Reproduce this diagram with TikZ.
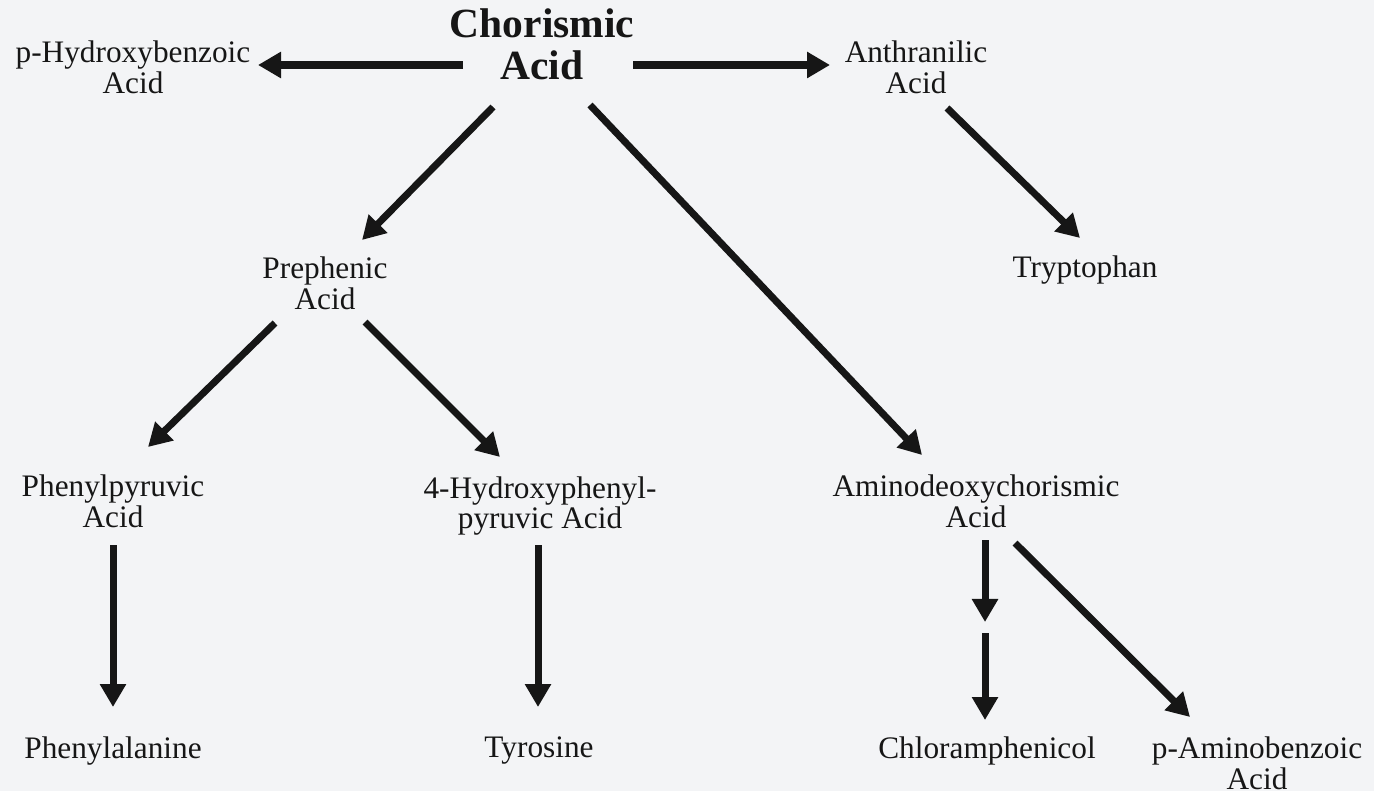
\documentclass[tikz,border=0pt]{standalone}
\usepackage{fontspec}
\setmainfont{Liberation Serif}
\usetikzlibrary{arrows.meta,calc}
\definecolor{paper}{RGB}{243,244,246}
\definecolor{ink}{RGB}{22,22,22}

\begin{document}
\begin{tikzpicture}[x=0.01cm, y=-0.01cm,
		lbl/.style={inner sep=0pt, align=center, text=ink, font=\fontsize{8.9}{8.8}\selectfont},
		arr/.style={draw=ink, line width=0.07cm, -{Triangle[width=0.25cm, length=0.23cm]}}]
		\fill[paper] (0,0) rectangle (1374,791);
		\useasboundingbox (0,0) rectangle (1374,791);
		% top row
		\node[lbl, font=\bfseries\fontsize{11.8}{12}\selectfont] (chor) at (542,44.5) {Chorismic\\Acid};
		\node[lbl] (phb) at (133,67) {p-Hydroxybenzoic\\Acid};
		\node[lbl] (anth) at (916,67.5) {Anthranilic\\Acid};
		% second row
		\node[lbl] (preph) at (325,283) {Prephenic\\Acid};
		\node[lbl] (tryp) at (1085,270) {Tryptophan};
		% third row
		\node[lbl] (phpyr) at (113,501) {Phenylpyruvic\\Acid};
		\node[lbl] (hpp) at (540,506) {4-Hydroxyphenyl-\\pyruvic Acid};
		\node[lbl] (amino) at (976,501) {Aminodeoxychorismic\\Acid};
		% bottom row
		\node[lbl] (phe) at (113,751) {Phenylalanine};
		\node[lbl] (tyr) at (539,751) {Tyrosine};
		\node[lbl] (chl) at (987,751) {Chloramphenicol};
		\node[lbl] (paba) at (1257,763) {p-Aminobenzoic\\Acid};
		\coordinate (chlstep) at (985,627);
		% arrows
		\draw[arr] ($(chor)+(-79,20.5)$) -- ($(phb)+(125,-2)$);
		\draw[arr] ($(chor)+(91,20.5)$) -- ($(anth)+(-86,-2.5)$);
		\draw[arr] ($(chor)+(-49,62.5)$) -- ($(preph)+(37,-43)$);
		\draw[arr] ($(chor)+(48,60.5)$) -- ($(amino)+(-54,-46)$);
		\draw[arr] ($(anth)+(31,40.5)$) -- ($(tryp)+(-5,-32)$);
		\draw[arr] ($(preph)+(-50,40)$) -- ($(phpyr)+(35,-54)$);
		\draw[arr] ($(preph)+(40,39)$) -- ($(hpp)+(-40,-49)$);
		\draw[arr] ($(phpyr)+(0,44)$) -- ($(phe)+(0,-44)$);
		\draw[arr] ($(hpp)+(-2,39)$) -- ($(tyr)+(-1,-44)$);
		\draw[arr, shorten >=0.05cm] ($(amino)+(9,39)$) -- (chlstep);
		\draw[arr, shorten <=0.06cm] (chlstep) -- ($(chl)+(-2,-31)$);
		\draw[arr] ($(amino)+(39,42)$) -- ($(paba)+(-67,-46)$);
	\end{tikzpicture}
\end{document}
